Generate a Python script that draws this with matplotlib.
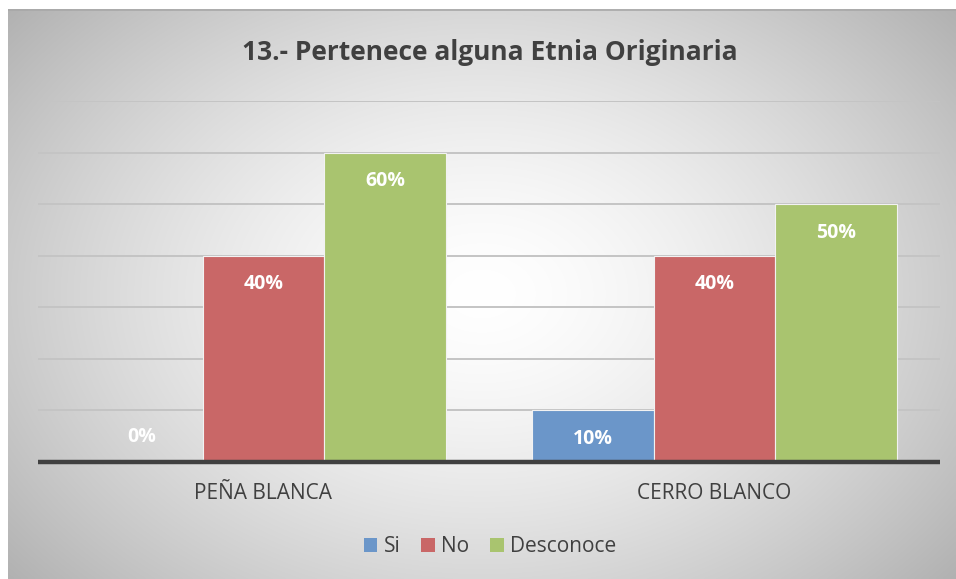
import numpy as np
import matplotlib
matplotlib.use("Agg")
import matplotlib.pyplot as plt
from matplotlib.patches import Patch

categories = ["PEÑA BLANCA", "CERRO BLANCO"]
series_names = ["Si", "No", "Desconoce"]
si_values = [0.0, 0.10]
no_values = [0.40, 0.40]
desconoce_values = [0.60, 0.50]
title = "13.- Pertenece alguna Etnia Originaria"

colors = ["#6b96c9", "#c96767", "#a9c46f"]
W, H = 956, 579
fig = plt.figure(figsize=(W / 100, H / 100), dpi=100)
fig.patch.set_facecolor("white")

# gradient background box
bx0, by1 = 8 / W, 1 - 9 / H
bg = fig.add_axes([bx0, 0, 1 - bx0, by1])
bg.set_axis_off()
yy, xx = np.mgrid[0:300, 0:500]
cx, cy = 0.5, 0.5
dx = (xx / 499 - cx) / 0.6
dy = (yy / 299 - cy) / 0.72
r = np.sqrt(dx ** 2 + dy ** 2)
val = 1 - 0.27 * np.clip(r, 0, 1.2) ** 1.5
img = np.dstack([val, val, val])
bg.imshow(img, aspect="auto", extent=[0, 1, 0, 1], interpolation="bilinear")
bg.set_xlim(0, 1)
bg.set_ylim(0, 1)
bg.plot([0, 1], [0.999, 0.999], color="#a8a8a8", lw=1.2)

ax = fig.add_axes([38 / W, (H - 462) / H, (940 - 38) / W, (462 - 101) / H])
ax.patch.set_alpha(0)
x = np.arange(len(categories))
bw = 0.27
data = [si_values, no_values, desconoce_values]
for i, (vals, col, name) in enumerate(zip(data, colors, series_names)):
    pos = x + (i - 1) * bw
    ax.bar(pos, vals, width=bw, color=col, edgecolor="#f2f2f2", linewidth=0.8,
           zorder=3, label=name)
    for p, v in zip(pos, vals):
        ypos = v - 0.055 if v > 0 else 0.048
        ax.text(p, ypos, f"{v*100:.0f}%", ha="center", va="center",
                color="white", fontsize=14, fontweight="bold",
                family="Open Sans", zorder=4)

ax.set_xlim(-0.5, 1.5)
ax.set_ylim(0, 0.7)
for g in np.arange(0.1, 0.71, 0.1):
    ax.axhline(g, color="#c4c4c4", lw=1.4, zorder=1, solid_capstyle="butt")
ax.axhline(0, color="#404040", lw=3.2, zorder=5, clip_on=False, solid_capstyle="butt")
for s in ax.spines.values():
    s.set_visible(False)
ax.set_yticks([])
ax.set_xticks(x)
ax.set_xticklabels(categories, fontsize=15, color="#404040", family="Open Sans")
ax.tick_params(axis="x", length=0, pad=15)

fig.text(490 / W, 1 - 52 / H, title, ha="center", va="center", fontsize=19,
         fontweight="bold", color="#404040", family="Open Sans")

handles = [Patch(facecolor=c, edgecolor="none") for c in colors]
fig.legend(handles, series_names, loc="center", bbox_to_anchor=(490 / W, 1 - 547 / H),
           ncol=3, frameon=False, handlelength=0.65, handleheight=0.65,
           handletextpad=0.3, columnspacing=1.0, labelcolor="#404040",
           prop={"family": "Open Sans", "size": 15})

fig.savefig("out.png", dpi=100, facecolor="white")
